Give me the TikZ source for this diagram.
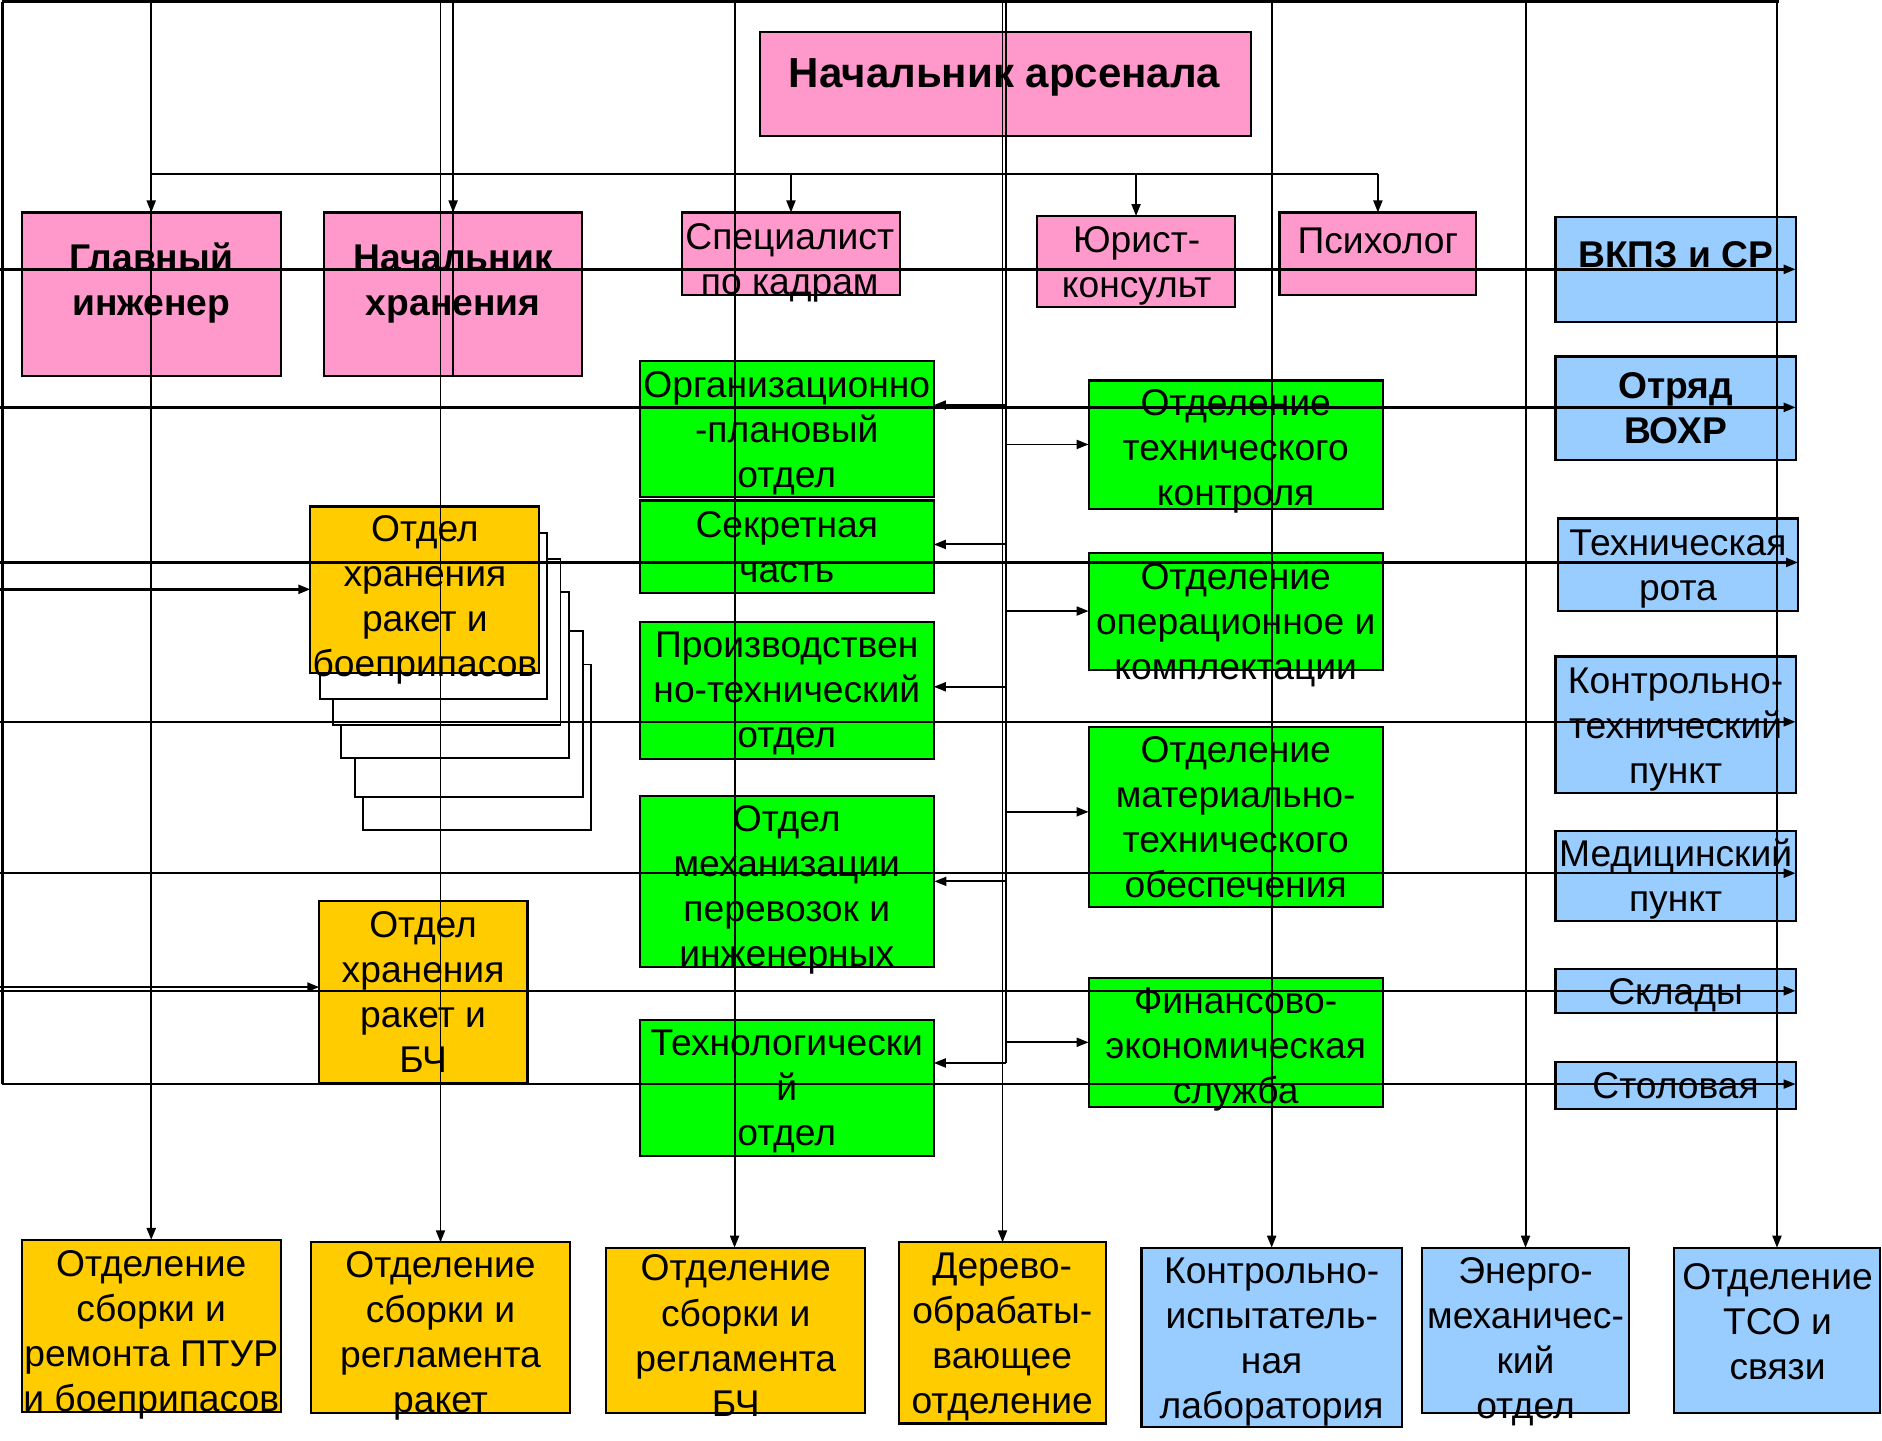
\documentclass[tikz,border=0pt]{standalone}
\usepackage{fontspec}
\setmainfont{Liberation Sans}
\usetikzlibrary{arrows.meta}
\definecolor{cpink}{HTML}{FF99CC}
\definecolor{cgreen}{HTML}{00FF00}
\definecolor{corange}{HTML}{FFCC00}
\definecolor{cblue}{HTML}{99CCFF}
\newcommand\mybox[6]{\node[#1, minimum width={(#5)-(#3)}, minimum height={(#6)-(#4)}] (#2) at ({((#3)+(#5))/2},{((#4)+(#6))/2}) {};}
\tikzset{
  bx/.style={draw=black, line width=1.8pt, inner sep=0pt, outer sep=0pt},
  pinkbox/.style={bx, fill=cpink},
  greenbox/.style={bx, fill=cgreen},
  orbox/.style={bx, fill=corange},
  bluebox/.style={bx, fill=cblue},
  stackbox/.style={bx, fill=white, line width=1.5pt},
  txt/.style={align=center, inner sep=0pt, yshift=-3pt, font=\fontsize{31}{37.5}\selectfont},
  btxt/.style={align=center, inner sep=0pt, yshift=-3pt, font=\bfseries\fontsize{31}{38}\selectfont},
  ttxt/.style={align=center, inner sep=0pt, yshift=-3pt, font=\bfseries\fontsize{35}{43}\selectfont},
  ln/.style={line width=2pt},
  tln/.style={line width=1.6pt},
  tip/.style={-{Triangle[length=10pt,width=7.5pt]}},
}
\begin{document}
\begin{tikzpicture}[x=1pt,y=-1pt]
\useasboundingbox (0,0) rectangle (1568,1200);
% stacked boxes behind
\mybox{stackbox}{st5}{302.7}{553.6}{492.5}{691.6}
\mybox{stackbox}{st4}{295.6}{526}{485.4}{664}
\mybox{stackbox}{st3}{284.4}{493.3}{474}{631.6}
\mybox{stackbox}{st2}{277.2}{466}{467}{604}
\mybox{stackbox}{st1}{266.3}{443.9}{456}{582.5}
% pink
\mybox{pinkbox}{arsenal}{633}{27}{1042}{113}
\mybox{pinkbox}{glav}{18}{177}{234}{313}
\mybox{pinkbox}{nhran}{270}{177}{485}{313}
\mybox{pinkbox}{kadr}{568}{177}{750}{246}
\mybox{pinkbox}{jur}{864}{180}{1029}{256}
\mybox{pinkbox}{psy}{1066}{177}{1230}{246}
% blue right column
\mybox{bluebox}{vkpz}{1296}{181}{1496}{268}
\mybox{bluebox}{vohr}{1296}{297}{1496}{383}
\mybox{bluebox}{trota}{1298}{432}{1498}{509}
\mybox{bluebox}{ktp}{1296}{547}{1496}{660.5}
\mybox{bluebox}{med}{1296}{692}{1496}{767.5}
\mybox{bluebox}{sklad}{1296}{807}{1496}{844}
\mybox{bluebox}{stol}{1296}{885}{1496}{924}
% green
\mybox{greenbox}{org}{533}{301}{778}{414}
\mybox{greenbox}{sekr}{533}{417}{778}{494}
\mybox{greenbox}{proizv}{533}{518}{778}{632.5}
\mybox{greenbox}{mekh}{533}{663}{778.5}{805.5}
\mybox{greenbox}{tehn}{533}{850}{778}{963}
\mybox{greenbox}{otk}{907}{317}{1152}{424}
\mybox{greenbox}{oper}{907}{461}{1152}{558}
\mybox{greenbox}{mto}{907}{605.5}{1152}{756}
\mybox{greenbox}{fin}{907}{815}{1152}{922}
% orange
\mybox{orbox}{ohrb}{258.5}{422}{449}{560.5}
\mybox{orbox}{ohrbch}{266}{751}{439.5}{902}
\mybox{orbox}{ptur}{18}{1033}{234}{1176.5}
\mybox{orbox}{raket}{259}{1035}{475}{1177.5}
\mybox{orbox}{bch}{505}{1039.5}{721}{1177.5}
\mybox{orbox}{derevo}{749}{1035}{921.5}{1186}
% blue bottom
\mybox{bluebox}{kil}{951}{1039.5}{1168}{1189}
\mybox{bluebox}{energo}{1185}{1039.5}{1357}{1177.5}
\mybox{bluebox}{tso}{1395}{1039.5}{1566}{1177.5}

% texts
\node[ttxt] (t-arsenal) at (837,61) {\strut Начальник арсенала\strut};
\node[btxt] (t-glav) at (126,233.5) {\strut Главный\\инженер\strut};
\node[btxt] (t-nhran) at (377.5,233.5) {\strut Начальник\\хранения\strut};
\node[txt] (t-kadr) at (658,216) {\strut Специалист\\по кадрам\strut};
\node[txt] (t-jur) at (947,219) {\strut Юрист-\\консульт\strut};
\node[txt] (t-psy) at (1148,201) {\strut Психолог\strut};
\node[btxt] (t-vkpz) at (1396,212.5) {\strut ВКПЗ и СР\strut};
\node[btxt] (t-vohr) at (1396,340) {\strut Отряд\\ВОХР\strut};
\node[txt] (t-org) at (655.5,358.5) {\strut Организационно\\-плановый\\отдел\strut};
\node[txt] (t-sekr) at (655.5,456) {\strut Секретная\\часть\strut};
\node[txt] (t-proizv) at (655.5,575) {\strut Производствен\\но-технический\\отдел\strut};
\node[txt] (t-mekh) at (655.5,738.5) {\strut Отдел\\механизации\\перевозок и\\инженерных\strut};
\node[txt] (t-tehn) at (655.5,906.5) {\strut Технологически\\й\\отдел\strut};
\node[txt] (t-otk) at (1029.5,373.5) {\strut Отделение\\технического\\контроля\strut};
\node[txt] (t-oper) at (1029.5,518) {\strut Отделение\\операционное и\\комплектации\strut};
\node[txt] (t-mto) at (1029.5,681) {\strut Отделение\\материально-\\технического\\обеспечения\strut};
\node[txt] (t-fin) at (1029.5,871.5) {\strut Финансово-\\экономическая\\служба\strut};
\node[txt] (t-trota) at (1398,471) {\strut Техническая\\рота\strut};
\node[txt] (t-ktp) at (1396,605) {\strut Контрольно-\\технический\\пункт\strut};
\node[txt] (t-med) at (1396,730.5) {\strut Медицинский\\пункт\strut};
\node[txt] (t-sklad) at (1396,826) {\strut Склады\strut};
\node[txt] (t-stol) at (1396,905) {\strut Столовая\strut};
\node[txt] (t-ohrb) at (354,497) {\strut Отдел\\хранения\\ракет и\\боеприпасов\strut};
\node[txt] (t-ohrbch) at (352.5,827) {\strut Отдел\\хранения\\ракет и\\БЧ\strut};
\node[txt] (t-ptur) at (126,1109.5) {\strut Отделение\\сборки и\\ремонта ПТУР\\и боеприпасов\strut};
\node[txt] (t-raket) at (367,1110) {\strut Отделение\\сборки и\\регламента\\ракет\strut};
\node[txt] (t-bch) at (613,1113) {\strut Отделение\\сборки и\\регламента\\БЧ\strut};
\node[txt] (t-derevo) at (835,1111) {\strut Дерево-\\обрабаты-\\вающее\\отделение\strut};
\node[txt] (t-kil) at (1059.5,1115) {\strut Контрольно-\\испытатель-\\ная\\лаборатория\strut};
\node[txt] (t-energo) at (1271,1115) {\strut Энерго-\\механичес-\\кий\\отдел\strut};
\node[txt] (t-tso) at (1481,1101.5) {\strut Отделение\\ТСО и\\связи\strut};

% bus coordinates
\coordinate (tl) at (2,1.4);
\coordinate (tr) at (1482,1.4);
\coordinate (lb) at (2,903.2);
\coordinate (m1) at (126,145);
\coordinate (m2) at (1148,145);
\coordinate (bus) at (838,1.4);
\coordinate (busend) at (838,885.6);
\coordinate (h1) at (0,224.4);
\coordinate (h2) at (0,339.4);
\coordinate (h3) at (0,468.6);
\coordinate (h4) at (0,491);
\coordinate (h5) at (0,601.4);
\coordinate (h6) at (0,727.5);
\coordinate (h7) at (0,822.4);
\coordinate (h8) at (0,825.5);
\coordinate (b-org) at (838,337.5);
\coordinate (b-sekr) at (838,453.6);
\coordinate (b-proizv) at (838,572.2);
\coordinate (b-mekh) at (838,734.3);
\coordinate (b-otk) at (838,370.3);
\coordinate (b-oper) at (838,509.1);
\coordinate (b-mto) at (838,676.4);
\coordinate (b-fin) at (838,868.4);

% top and left buses
\draw[line width=2.6pt] (tl) -- (tr);
\draw[ln] (tl) -- (lb);

% left-bus horizontals
\draw[ln,tip] (h1) -- (vkpz.east |- h1);
\draw[ln,tip] (h2) -- (vohr.east |- h2);
\draw[ln,tip] (h3) -- (trota.east |- h3);
\draw[ln,tip] (h4) -- (ohrb.west |- h4);
\draw[ln,tip] (h5) -- (ktp.east |- h5);
\draw[ln,tip] (h6) -- (med.east |- h6);
\draw[ln,tip] (h7) -- (ohrbch.west |- h7);
\draw[ln,tip] (h8) -- (sklad.east |- h8);
\draw[tln,tip] (lb) -- (stol.east |- lb);

% verticals from the top line
\draw[ln,tip] (ptur.north |- tl) -- (ptur.north);
\draw[tln,tip] (raket.north |- tl) -- (raket.north);
\draw[tln] (nhran.north |- tl) -- (nhran.south);
\draw[tln,tip] (612,1.4) -- (bch.north -| 612,0);
\draw[tln,tip] (derevo.north |- tl) -- (derevo.north);
\draw[tln,tip] (kil.north |- tl) -- (kil.north);
\draw[tln,tip] (energo.north |- tl) -- (energo.north);
\draw[tln,tip] (tso.north |- tl) -- (tso.north);

% green bus
\draw[tln] (bus) -- (busend);
\draw[tln,tip] (busend) -- (tehn.east |- busend);
\draw[tln,tip] (b-org) -- (org.east |- b-org);
\draw[tln,tip] (b-sekr) -- (sekr.east |- b-sekr);
\draw[tln,tip] (b-proizv) -- (proizv.east |- b-proizv);
\draw[tln,tip] (b-mekh) -- (mekh.east |- b-mekh);
\draw[tln,tip] (b-otk) -- (otk.west |- b-otk);
\draw[tln,tip] (b-oper) -- (oper.west |- b-oper);
\draw[tln,tip] (b-mto) -- (mto.west |- b-mto);
\draw[tln,tip] (b-fin) -- (fin.west |- b-fin);

% second-level distribution line
\draw[ln] (m1) -- (m2);
\draw[tln,tip] (glav.north |- m1) -- (glav.north);
\draw[tln,tip] (nhran.north |- m1) -- (nhran.north);
\draw[tln,tip] (kadr.north |- m1) -- (kadr.north);
\draw[tln,tip] (jur.north |- m1) -- (jur.north);
\draw[tln,tip] (psy.north |- m1) -- (psy.north);
\end{tikzpicture}
\end{document}
